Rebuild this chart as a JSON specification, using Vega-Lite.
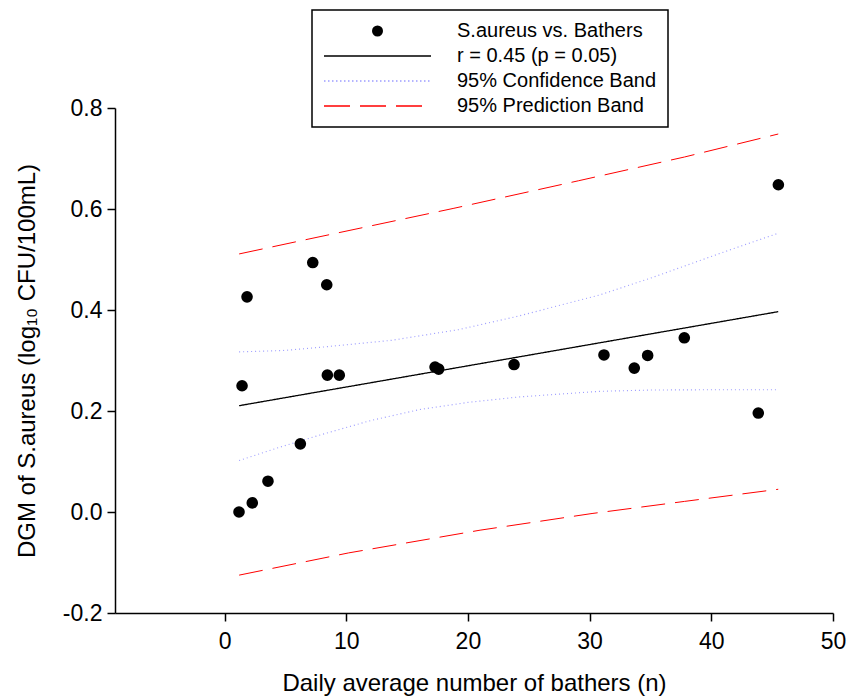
{
  "$schema": "https://vega.github.io/schema/vega-lite/v6.json",
  "width": 718,
  "height": 505,
  "autosize": {"type": "none"},
  "padding": {"left": 115, "top": 108, "right": 24, "bottom": 84},
  "background": "white",
  "config": {
    "view": {"stroke": null},
    "font": "Liberation Sans",
    "axis": {
      "grid": false,
      "domainColor": "black",
      "tickColor": "black",
      "labelColor": "black",
      "titleColor": "black",
      "labelFont": "Liberation Sans",
      "titleFont": "Liberation Sans",
      "labelFontSize": 23,
      "titleFontSize": 24,
      "titleFontWeight": "normal",
      "tickSize": 8,
      "domainWidth": 1.5,
      "tickWidth": 1.5,
      "labelFlush": false,
      "labelOverlap": false
    }
  },
  "datasets": {
    "points": [
      {"series": "S.aureus vs. Bathers", "bathers": 1.19, "dgm": 0.000},
      {"series": "S.aureus vs. Bathers", "bathers": 1.44, "dgm": 0.250},
      {"series": "S.aureus vs. Bathers", "bathers": 1.85, "dgm": 0.426},
      {"series": "S.aureus vs. Bathers", "bathers": 2.28, "dgm": 0.018},
      {"series": "S.aureus vs. Bathers", "bathers": 3.57, "dgm": 0.061},
      {"series": "S.aureus vs. Bathers", "bathers": 6.23, "dgm": 0.135},
      {"series": "S.aureus vs. Bathers", "bathers": 7.25, "dgm": 0.494},
      {"series": "S.aureus vs. Bathers", "bathers": 8.40, "dgm": 0.450},
      {"series": "S.aureus vs. Bathers", "bathers": 8.45, "dgm": 0.271},
      {"series": "S.aureus vs. Bathers", "bathers": 9.43, "dgm": 0.271},
      {"series": "S.aureus vs. Bathers", "bathers": 17.30, "dgm": 0.287},
      {"series": "S.aureus vs. Bathers", "bathers": 17.60, "dgm": 0.283},
      {"series": "S.aureus vs. Bathers", "bathers": 23.79, "dgm": 0.292},
      {"series": "S.aureus vs. Bathers", "bathers": 31.18, "dgm": 0.311},
      {"series": "S.aureus vs. Bathers", "bathers": 33.67, "dgm": 0.285},
      {"series": "S.aureus vs. Bathers", "bathers": 34.77, "dgm": 0.310},
      {"series": "S.aureus vs. Bathers", "bathers": 37.78, "dgm": 0.345},
      {"series": "S.aureus vs. Bathers", "bathers": 43.86, "dgm": 0.196},
      {"series": "S.aureus vs. Bathers", "bathers": 45.51, "dgm": 0.648}
    ],
    "lines": [
      {"series": "r = 0.45 (p = 0.05)", "part": "fit", "bathers": 1.2, "dgm": 0.2105},
      {"series": "r = 0.45 (p = 0.05)", "part": "fit", "bathers": 45.5, "dgm": 0.3967},
      {"series": "95% Confidence Band", "part": "upper", "bathers": 1.2, "dgm": 0.317},
      {"series": "95% Confidence Band", "part": "upper", "bathers": 5.0, "dgm": 0.320},
      {"series": "95% Confidence Band", "part": "upper", "bathers": 8.26, "dgm": 0.327},
      {"series": "95% Confidence Band", "part": "upper", "bathers": 13.74, "dgm": 0.340},
      {"series": "95% Confidence Band", "part": "upper", "bathers": 19.21, "dgm": 0.361},
      {"series": "95% Confidence Band", "part": "upper", "bathers": 24.0, "dgm": 0.387},
      {"series": "95% Confidence Band", "part": "upper", "bathers": 30.85, "dgm": 0.430},
      {"series": "95% Confidence Band", "part": "upper", "bathers": 35.0, "dgm": 0.463},
      {"series": "95% Confidence Band", "part": "upper", "bathers": 39.07, "dgm": 0.498},
      {"series": "95% Confidence Band", "part": "upper", "bathers": 42.0, "dgm": 0.523},
      {"series": "95% Confidence Band", "part": "upper", "bathers": 45.5, "dgm": 0.552},
      {"series": "95% Confidence Band", "part": "lower", "bathers": 1.2, "dgm": 0.102},
      {"series": "95% Confidence Band", "part": "lower", "bathers": 4.5, "dgm": 0.128},
      {"series": "95% Confidence Band", "part": "lower", "bathers": 7.85, "dgm": 0.1525},
      {"series": "95% Confidence Band", "part": "lower", "bathers": 12.0, "dgm": 0.181},
      {"series": "95% Confidence Band", "part": "lower", "bathers": 16.06, "dgm": 0.203},
      {"series": "95% Confidence Band", "part": "lower", "bathers": 20.0, "dgm": 0.217},
      {"series": "95% Confidence Band", "part": "lower", "bathers": 24.28, "dgm": 0.228},
      {"series": "95% Confidence Band", "part": "lower", "bathers": 30.85, "dgm": 0.239},
      {"series": "95% Confidence Band", "part": "lower", "bathers": 35.0, "dgm": 0.2415},
      {"series": "95% Confidence Band", "part": "lower", "bathers": 39.07, "dgm": 0.242},
      {"series": "95% Confidence Band", "part": "lower", "bathers": 45.5, "dgm": 0.242},
      {"series": "95% Prediction Band", "part": "upper", "bathers": 1.2, "dgm": 0.511},
      {"series": "95% Prediction Band", "part": "upper", "bathers": 6.94, "dgm": 0.5406},
      {"series": "95% Prediction Band", "part": "upper", "bathers": 18.85, "dgm": 0.6014},
      {"series": "95% Prediction Band", "part": "upper", "bathers": 29.1, "dgm": 0.656},
      {"series": "95% Prediction Band", "part": "upper", "bathers": 37.8, "dgm": 0.703},
      {"series": "95% Prediction Band", "part": "upper", "bathers": 45.5, "dgm": 0.7485},
      {"series": "95% Prediction Band", "part": "lower", "bathers": 1.2, "dgm": -0.125},
      {"series": "95% Prediction Band", "part": "lower", "bathers": 10.2, "dgm": -0.081},
      {"series": "95% Prediction Band", "part": "lower", "bathers": 21.0, "dgm": -0.036},
      {"series": "95% Prediction Band", "part": "lower", "bathers": 30.2, "dgm": -0.003},
      {"series": "95% Prediction Band", "part": "lower", "bathers": 37.8, "dgm": 0.021},
      {"series": "95% Prediction Band", "part": "lower", "bathers": 45.5, "dgm": 0.045}
    ]
  },
  "layer": [
    {
      "data": {"name": "lines"},
      "mark": {"type": "line", "strokeCap": "butt"},
      "encoding": {
        "x": {
          "field": "bathers", "type": "quantitative",
          "scale": {"domain": [-9, 50], "nice": false, "zero": false},
          "axis": {"title": "Daily average number of bathers (n)", "values": [0, 10, 20, 30, 40, 50], "format": "d", "labelPadding": 9, "titlePadding": 18}
        },
        "y": {
          "field": "dgm", "type": "quantitative",
          "scale": {"domain": [-0.2, 0.8], "nice": false, "zero": false},
          "axis": {"title": "DGM of S.aureus (log₁₀ CFU/100mL)", "values": [-0.2, 0, 0.2, 0.4, 0.6, 0.8], "labelExpr": "datum.value < 0 ? '-' + format(-datum.value, '.1f') : format(datum.value, '.1f')", "labelPadding": 5, "titlePadding": 23}
        },
        "color": {
          "field": "series", "type": "nominal",
          "scale": {"domain": ["S.aureus vs. Bathers", "r = 0.45 (p = 0.05)", "95% Confidence Band", "95% Prediction Band"], "range": ["black", "black", "#9c9cff", "#ff0000"]},
          "legend": {
            "title": null,
            "orient": "none",
            "legendX": 197,
            "legendY": -98,
            "direction": "vertical",
            "columns": 1,
            "padding": 11,
            "strokeColor": "black",
            "fillColor": "white",
            "labelFont": "Liberation Sans",
            "labelFontSize": 20,
            "labelColor": "black",
            "labelLimit": 400,
            "labelOffset": 25,
            "clipHeight": 20,
            "rowPadding": 5,
            "symbolOffset": 0,
            "symbolSize": 11449,
            "symbolStrokeWidth": 1.5,
            "encode": {
              "legend": {"update": {"strokeWidth": {"value": 1.5}}},
              "symbols": {"update": {
                "shape": {"signal": "(datum.value === 'S.aureus vs. Bathers' ? 'circle' : 'stroke')"},
                "size": {"signal": "(datum.value === 'S.aureus vs. Bathers' ? 121 : 11449)"},
                "fill": {"signal": "(datum.value === 'S.aureus vs. Bathers' ? 'black' : 'transparent')"},
                "stroke": {"signal": "(datum.value === '95% Confidence Band' ? '#3030ff' : datum.value === '95% Prediction Band' ? '#ff0000' : 'black')"},
                "strokeDash": {"signal": "(datum.value === '95% Confidence Band' ? [1.5, 2.5] : datum.value === '95% Prediction Band' ? [26, 10] : [1, 0])"},
                "strokeWidth": {"signal": "(datum.value === 'S.aureus vs. Bathers' ? 0 : 1.5)"},
                "opacity": {"value": 1}
              }}
            }
          }
        },
        "strokeDash": {
          "field": "series", "type": "nominal",
          "scale": {"domain": ["r = 0.45 (p = 0.05)", "95% Confidence Band", "95% Prediction Band"], "range": [[1, 0], [1, 3], [24, 10]]},
          "legend": null
        },
        "strokeWidth": {
          "field": "series", "type": "nominal",
          "scale": {"domain": ["r = 0.45 (p = 0.05)", "95% Confidence Band", "95% Prediction Band"], "range": [1.3, 1, 1.4]},
          "legend": null
        },
        "detail": {"field": "part", "type": "nominal"}
      }
    },
    {
      "data": {"name": "points"},
      "mark": {"type": "point", "filled": true, "size": 135, "opacity": 1, "shape": "circle"},
      "encoding": {
        "x": {"field": "bathers", "type": "quantitative"},
        "y": {"field": "dgm", "type": "quantitative"},
        "color": {
          "field": "series", "type": "nominal",
          "scale": {"domain": ["S.aureus vs. Bathers", "r = 0.45 (p = 0.05)", "95% Confidence Band", "95% Prediction Band"], "range": ["black", "black", "#9c9cff", "#ff0000"]}
        }
      }
    }
  ]
}
